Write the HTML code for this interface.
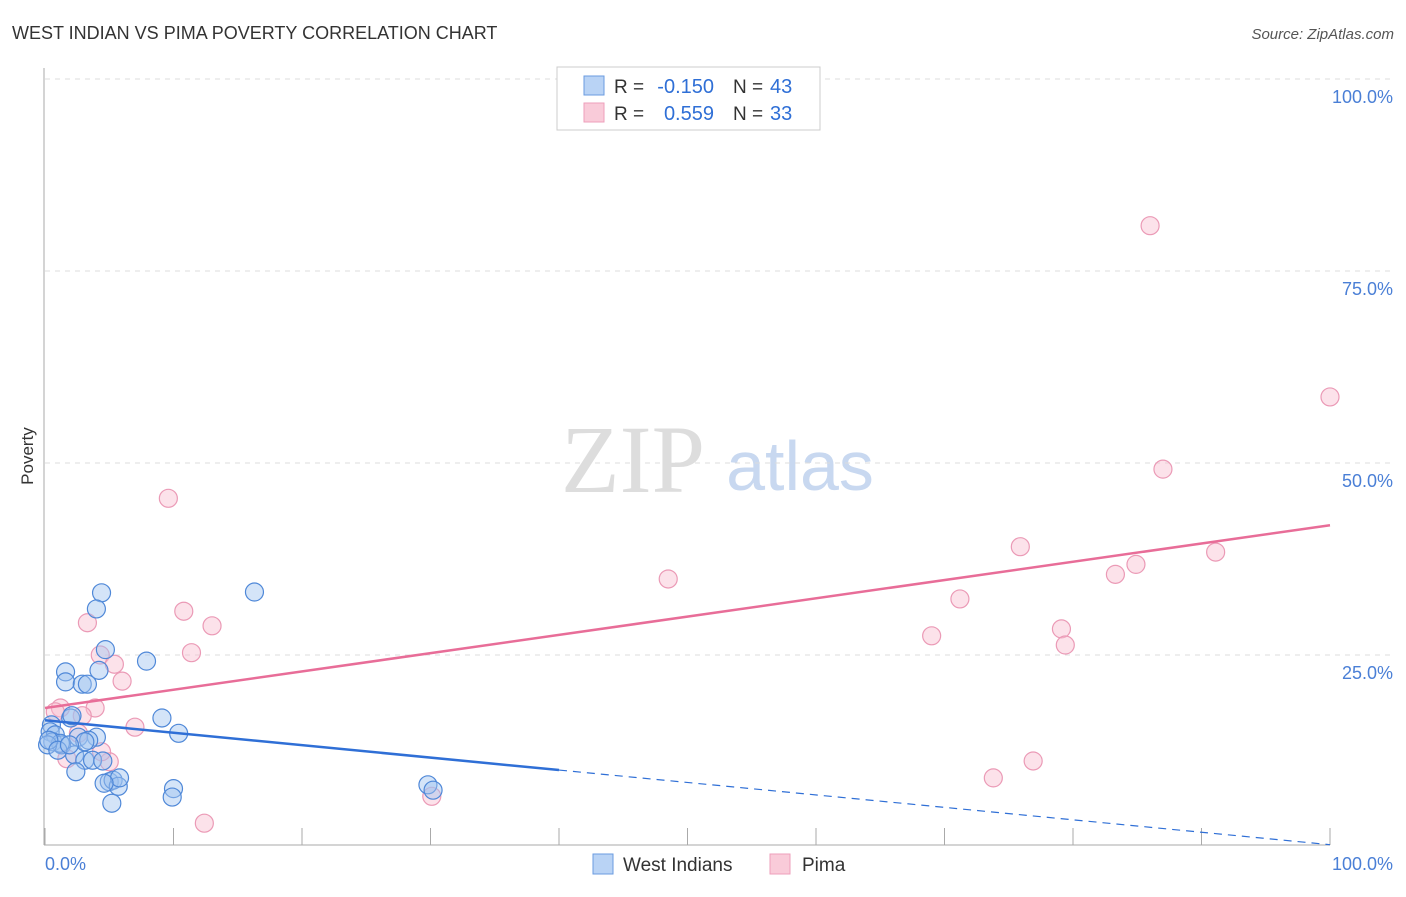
<!DOCTYPE html>
<html><head><meta charset="utf-8"><style>
body{margin:0;background:#fff;font-family:"Liberation Sans",sans-serif;}
svg text{font-family:"Liberation Sans",sans-serif;}
</style></head><body>
<svg width="1406" height="892" viewBox="0 0 1406 892" id="chart">
<text x="12" y="39" font-size="18" fill="#333">WEST INDIAN VS PIMA POVERTY CORRELATION CHART</text>
<text x="1394" y="39" font-size="15" fill="#555" font-style="italic" text-anchor="end">Source: ZipAtlas.com</text>
<text x="633" y="492" font-size="96" fill="#ddd" font-family="Liberation Serif" text-anchor="middle" style="font-family:'Liberation Serif',serif">ZIP</text>
<text x="800" y="490" font-size="70" fill="#c8d8f0" text-anchor="middle">atlas</text>
<text x="33" y="456" font-size="17" fill="#333" transform="rotate(-90 33 456)" text-anchor="middle">Poverty</text>
<g id="grid"></g><g id="pts"></g><g id="lines"></g>
<g>
<rect x="557" y="67" width="263" height="63" fill="#fff" stroke="#ccc"/>
<rect x="584" y="76" width="20" height="19" fill="#b9d3f5" stroke="#6a9be0"/>
<rect x="584" y="103" width="20" height="19" fill="#f9cbd9" stroke="#ee9fbb"/>
<text x="614" y="93" font-size="19" fill="#333">R =</text>
<text x="714" y="93" font-size="20" fill="#2f6fd6" text-anchor="end">-0.150</text>
<text x="733" y="93" font-size="19" fill="#333">N =</text>
<text x="770" y="93" font-size="20" fill="#2f6fd6">43</text>
<text x="614" y="120" font-size="19" fill="#333">R =</text>
<text x="714" y="120" font-size="20" fill="#2f6fd6" text-anchor="end">0.559</text>
<text x="733" y="120" font-size="19" fill="#333">N =</text>
<text x="770" y="120" font-size="20" fill="#2f6fd6">33</text>
</g>
<g>
<rect x="593" y="854" width="20" height="20" fill="#b9d3f5" stroke="#6a9be0"/>
<text x="623" y="871" font-size="19" fill="#333">West Indians</text>
<rect x="770" y="854" width="20" height="20" fill="#f9cbd9" stroke="#ee9fbb"/>
<text x="802" y="871" font-size="19" fill="#333">Pima</text>
</g>
</svg>
<script>
const yTicks=[25,50,75,100];
const yTickLabels=["25.0%","50.0%","75.0%","100.0%"];
const blueX=[4.4,4.0,4.7,1.6,4.2,1.6,2.9,3.3,7.9,16.3,9.1,10.4,2.0,2.1,0.5,0.4,0.8,0.6,1.3,1.2,2.6,4.0,3.4,2.3,3.1,3.7,4.5,2.4,5.0,5.3,5.7,5.8,4.6,5.2,10.0,9.9,29.8,30.2,0.2,0.3,1.0,3.1,1.9];
const blueY=[33.1,31.0,25.7,22.8,23.0,21.5,21.2,21.2,24.2,33.2,16.8,14.8,16.8,17.1,15.9,15.0,14.6,13.7,13.3,13.5,14.3,14.3,13.9,12.0,11.3,11.3,11.2,9.8,8.5,8.7,7.9,9.0,8.3,5.7,7.6,6.5,8.1,7.4,13.3,13.9,12.6,13.7,13.3];
const pinkX=[86.0,100,87.0,9.6,75.9,91.1,84.9,83.3,48.5,71.2,10.8,13.0,3.3,69.0,79.1,79.4,11.4,4.3,5.4,6.0,3.9,1.2,2.9,7.0,2.6,1.7,5.0,73.8,76.9,30.1,12.4,0.8,4.4];
const pinkY=[80.9,58.6,49.2,45.4,39.1,38.4,36.8,35.5,34.9,32.3,30.7,28.8,29.2,27.5,28.4,26.3,25.3,25.0,23.8,21.6,18.1,18.1,17.1,15.6,14.8,11.5,11.1,9.0,11.2,6.6,3.1,17.6,12.4];
const blueTrend=[16.5,0.3];
const pinkTrend=[18.1,41.9];
const NS="http://www.w3.org/2000/svg";
const sx=v=>45+v*12.85, sy=v=>847-v*7.68;
function mk(t,a,p){const e=document.createElementNS(NS,t);for(const k in a)e.setAttribute(k,a[k]);p.appendChild(e);return e;}
const grid=document.getElementById('grid');
yTicks.forEach((t,i)=>{
 const l=mk('line',{x1:45,x2:1395,y1:sy(t),y2:sy(t),stroke:'#ddd','stroke-dasharray':'5,5'},grid);
 
 
 const tx=mk('text',{x:1393,y:sy(t)+24,'font-size':18,fill:'#4a7fd6','text-anchor':'end'},grid);
 tx.textContent=yTickLabels[i];
 
 
});
const ax=mk('line',{x1:44,x2:44,y1:68,y2:845,stroke:'#aaa'},grid);


const xa=mk('line',{x1:44,x2:1330,y1:845,y2:845,stroke:'#aaa'},grid);


for(let i=0;i<=10;i++){const t=mk('line',{x1:sx(i*10),x2:sx(i*10),y1:828,y2:845,stroke:'#aaa'},grid);
 
 }
[[45,'0.0%','start'],[1393,'100.0%','end']].forEach(d=>{const t=mk('text',{x:d[0],y:870,'font-size':18,fill:'#4a7fd6','text-anchor':d[2]},grid);t.textContent=d[1];
 
 });
const pts=document.getElementById('pts');
pinkX.forEach((x,i)=>{const c=mk('circle',{cx:sx(x),cy:sy(pinkY[i]),r:9,fill:'rgba(248,190,208,0.45)',stroke:'#eb9ab6','stroke-width':1.2},pts);
 
 });
blueX.forEach((x,i)=>{const c=mk('circle',{cx:sx(x),cy:sy(blueY[i]),r:9,fill:'rgba(160,196,240,0.45)',stroke:'#4f88d8','stroke-width':1.2},pts);
 
 });
const lines=document.getElementById('lines');
const bAt=x=>blueTrend[0]+(blueTrend[1]-blueTrend[0])*x/100;
const b1=mk('line',{x1:sx(0),y1:sy(bAt(0)),x2:sx(40),y2:sy(bAt(40)),stroke:'#2f6fd6','stroke-width':2.5},lines);


const b2=mk('line',{x1:sx(40),y1:sy(bAt(40)),x2:sx(100),y2:sy(bAt(100)),stroke:'#2f6fd6','stroke-width':1.2,'stroke-dasharray':'8,6'},lines);


const p1=mk('line',{x1:sx(0),y1:sy(pinkTrend[0]),x2:sx(100),y2:sy(pinkTrend[1]),stroke:'#e86d98','stroke-width':2.5},lines);


</script>
</body></html>
